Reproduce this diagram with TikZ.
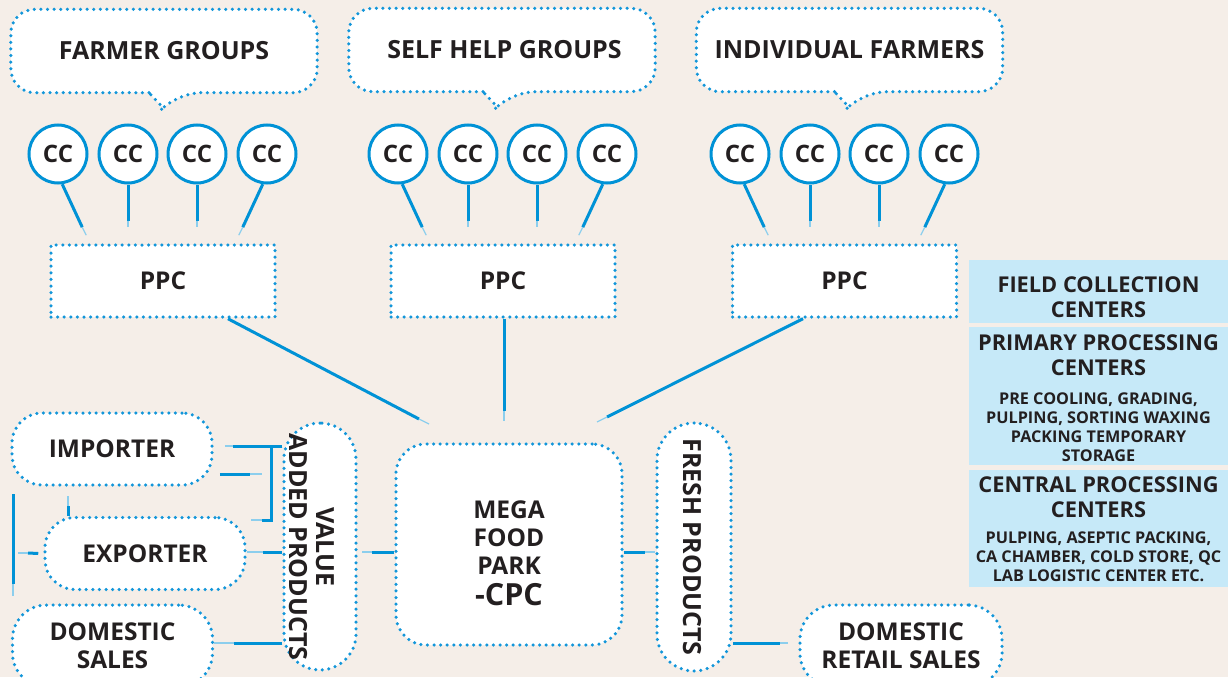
\documentclass[tikz,border=0pt]{standalone}
\usepackage{fontspec}
\setmainfont{Open Sans}
\usetikzlibrary{calc}
\definecolor{bgc}{HTML}{F5EEE8}
\definecolor{lblue}{HTML}{0092D6}
\definecolor{dblue}{HTML}{1296DA}
\definecolor{infob}{HTML}{C6E9F8}
\definecolor{txt}{HTML}{231F20}
\pgfdeclarelayer{bg}
\pgfsetlayers{bg,main}
\begin{document}
\begin{tikzpicture}[x=1pt,y=-1pt,
  dotline/.style={draw=dblue,line width=3.5pt,line cap=round,dash pattern=on 0pt off 6.6pt},
  conn/.style={draw=lblue,line width=3pt},
  faint/.style={draw=lblue!45,line width=1.2pt},
  big/.style={font=\fontsize{25}{29}\selectfont\bfseries,text=txt,align=center},
  mid/.style={font=\fontsize{24.5}{29}\selectfont\bfseries,text=txt,align=center},
  callout/.style={big,minimum width=306pt,minimum height=83pt,inner sep=0pt},
  ccnode/.style={circle,draw=lblue,line width=3pt,fill=white,minimum size=58pt,inner sep=0pt,font=\fontsize{24}{28}\selectfont\bfseries,text=txt},
  ppcbox/.style={dotline,fill=white,minimum width=224pt,minimum height=72pt,inner sep=0pt,mid},
  pill/.style={dotline,fill=white,rounded corners=30pt,minimum width=200pt,minimum height=72pt,inner sep=0pt,mid},
  vpill/.style={dotline,fill=white,rounded corners=36pt,minimum width=72pt,minimum height=247pt,inner sep=0pt},
  infobox/.style={fill=infob,minimum width=259pt,inner sep=0pt},
  ihead/.style={font=\fontsize{21.8}{25}\selectfont\bfseries,text=txt,align=center},
  ismall/.style={font=\fontsize{16.2}{18.8}\selectfont\bfseries,text=txt,align=center}
]
\begin{pgfonlayer}{bg}
\fill[bgc] (0,0) rectangle (1228,677);
\end{pgfonlayer}
\useasboundingbox (0,0) rectangle (1228,677);
\clip (0,0) rectangle (1228,677);

% callouts
\node[callout] (fg) at (164,51) {FARMER GROUPS};
\node[callout] (shg) at (502,50) {\hspace{5pt}SELF HELP GROUPS};
\node[callout] (ifm) at (849.5,50) {INDIVIDUAL FARMERS};
\begin{pgfonlayer}{bg}
\foreach \n/\tx in {fg/-1,shg/-5,ifm/-1}{
  \draw[dotline,fill=white] ([xshift=\tx pt-14pt]\n.south) [rounded corners=24pt] -- (\n.south west) -- (\n.north west) -- (\n.north east) -- (\n.south east) -- ([xshift=\tx pt+14pt]\n.south) [sharp corners] -- ([xshift=\tx pt,yshift=-15pt]\n.south) -- cycle;
}
\end{pgfonlayer}

% CC circles
\foreach \g/\cx in {1/58,2/398,3/740}{
  \node[ccnode] (c\g1) at (\cx,154) {CC};
  \node[ccnode] (c\g2) at ({\cx+70},154) {CC};
  \node[ccnode] (c\g3) at ({\cx+139},154) {CC};
  \node[ccnode] (c\g4) at ({\cx+209},154) {CC};
}

% PPC boxes
\node[ppcbox] (p1) at (163,281) {PPC};
\node[ppcbox] (p2) at (503,281) {PPC};
\node[ppcbox] (p3) at (844.5,281) {PPC};

% CC -> PPC connectors
\foreach \g in {1,2,3}{
  \draw[conn] (c\g1.-82) -- ++(20,43) coordinate (e\g1);
  \draw[faint] (e\g1) -- ++(4,8);
  \draw[conn] (c\g2.south) -- ++(0,36) coordinate (e\g2);
  \draw[faint] (e\g2) -- ++(0,6);
  \draw[conn] (c\g3.south) -- ++(0,36) coordinate (e\g3);
  \draw[faint] (e\g3) -- ++(0,6);
  \draw[conn] (c\g4.-98) -- ++(-20,43) coordinate (e\g4);
  \draw[faint] (e\g4) -- ++(-4,8);
}

% Mega food park
\node[dotline,fill=white,rounded corners=30pt,minimum width=226pt,minimum height=201pt,inner sep=0pt] (mfp) at (509,544.5) {};
\node[mid,font=\fontsize{24.5}{28}\selectfont\bfseries] (mfpt) at (509,553) {MEGA\\FOOD\\PARK\\[3pt]{\fontsize{30.5}{30}\selectfont -CPC}};

% PPC -> Mega
\draw[conn] ($(p1.south)+(65,0)$) coordinate (s1) -- (419,419) coordinate (m1);
\draw[faint] (m1) -- (429,424);
\draw[conn] ($(p2.south)+(1,0)$) -- (504,411) coordinate (m2);
\draw[faint] (m2) -- (504,421);
\draw[conn] ($(p3.south)+(-41.5,0)$) -- (607,417) coordinate (m3);
\draw[faint] (m3) -- (597,422);

% left side
\node[pill] (imp) at (112,449) {IMPORTER};
\node[pill] (exp) at (145,553.5) {EXPORTER};
\node[pill,minimum height=82pt,rounded corners=34pt] (dsl) at (112.5,646) {DOMESTIC\\[-1pt]SALES};
\node[vpill] (vap) at (320,546.5) {};
\node[big,rotate=-90,font=\fontsize{25}{27}\selectfont\bfseries] (vapt) at (311.5,547) {VALUE\\ADDED PRODUCTS};

% right of mega
\node[vpill,minimum width=74pt,minimum height=248pt,rounded corners=37pt] (fp) at (694,547) {};
\node[big,rotate=-90] (fpt) at (692,547) {FRESH PRODUCTS};
\node[pill,minimum width=202pt,minimum height=82pt,rounded corners=34pt] (drs) at (901,646) {DOMESTIC\\[-1pt]RETAIL SALES};

% left connectors
\draw[faint] (imp.east |- 0,446) ++(11,0) -- ++(8,0);
\draw[conn] (vap.west |- 0,446) -- (233,446);
\draw[conn] (vap.west |- 0,446) -- (271,446) -- (271,520) -- (262,520) coordinate (b1);
\draw[faint] (b1) -- ++(-11,0);
\draw[conn] (imp.east |- 0,474) ++(6,0) -- (250,474) coordinate (b2);
\draw[faint] (b2) -- ++(12,0);
\draw[conn] (vap.west |- 0,552) -- (263,552) coordinate (b3);
\draw[faint] (b3) -- (exp.east |- 0,552) ++(7,0);
\draw[conn] (vap.west |- 0,643) -- (234,643) coordinate (b4);
\draw[faint] (b4) -- (dsl.east |- 0,643) ++(10,0);
\draw[conn] (13,494) -- (13,584) coordinate (b5);
\draw[faint] (b5) -- ++(0,12);
\draw[conn] ($(exp.west)+(-5,0)$) -- (28,553) coordinate (b6);
\draw[faint] (b6) -- ++(-10,0);
\draw[conn] (exp.north -| 68,0) -- (68,506) coordinate (b7);
\draw[faint] (b7) -- ++(0,-10);
\draw[conn] (mfp.west |- 0,552) -- (372,552) coordinate (b8);
\draw[faint] (b8) -- ++(-10,0);
\draw[conn] (mfp.east |- 0,552) -- (645,552) coordinate (b9);
\draw[faint] (b9) -- ++(10,0);
\draw[conn] (fp.east |- 0,643) -- (780,643) coordinate (b10);
\draw[faint] (b10) -- ++(8,0);

% info boxes
\node[infobox,minimum height=63pt] (fcc) at (1098.5,291.5) {};
\node[ihead] (fcct) at (1098.5,297) {FIELD COLLECTION\\CENTERS};
\node[infobox,minimum height=138pt] (ppcb) at (1098.5,396) {};
\node[ihead] (ppch) at (1098.5,355) {PRIMARY PROCESSING\\CENTERS};
\node[ismall] (ppcd) at (1098.5,427) {PRE COOLING, GRADING,\\PULPING, SORTING WAXING\\PACKING TEMPORARY\\STORAGE};
\node[infobox,minimum height=117pt] (cpcb) at (1098.5,528.5) {};
\node[ihead] (cpch) at (1098.5,497) {CENTRAL PROCESSING\\CENTERS};
\node[ismall] (cpcd) at (1098.5,556.5) {PULPING, ASEPTIC PACKING,\\CA CHAMBER, COLD STORE, QC\\LAB LOGISTIC CENTER ETC.};
\end{tikzpicture}
\end{document}
